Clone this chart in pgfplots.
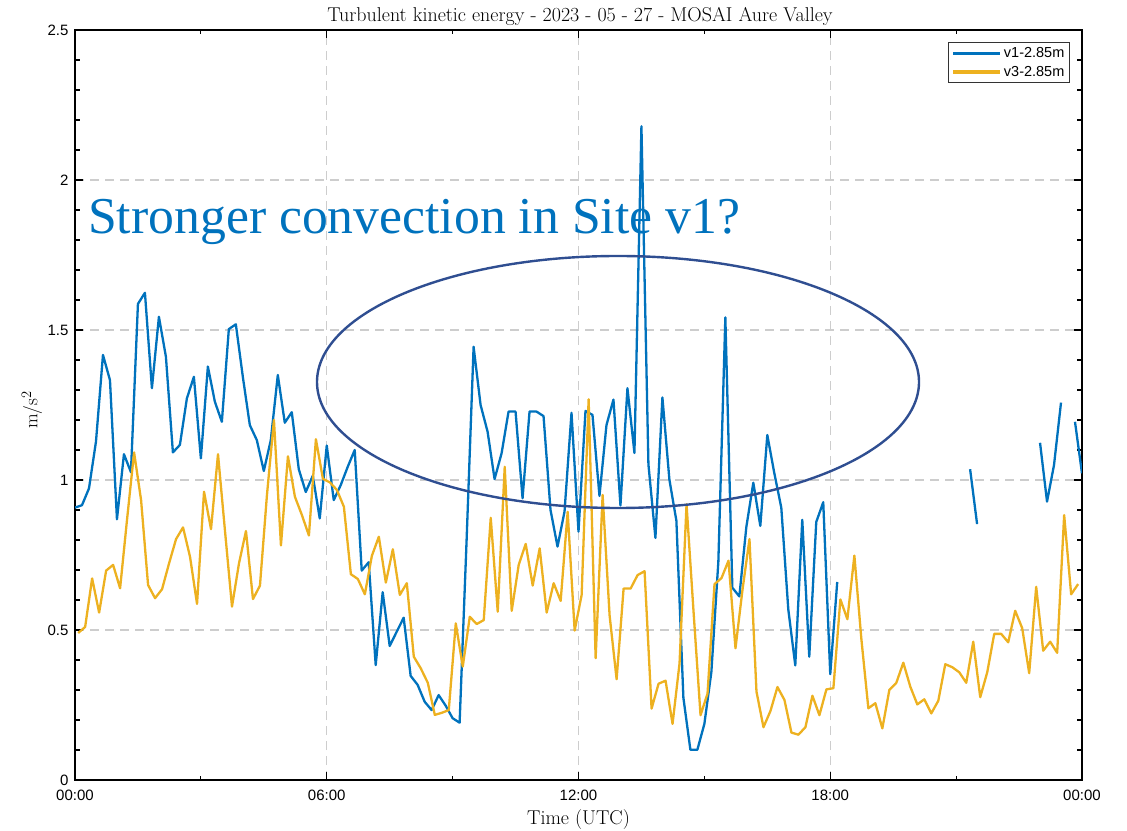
\documentclass[border=0pt]{standalone}
\usepackage{fontspec}
\setsansfont{Liberation Sans}
\newfontfamily\annfont{Liberation Serif}
\usepackage{pgfplots}
\usepackage{pgfplotstable}
\pgfplotsset{compat=1.18}
\definecolor{mblue}{RGB}{0,114,189}
\definecolor{myell}{RGB}{237,177,32}
\definecolor{ellc}{RGB}{47,78,145}
\definecolor{gridc}{RGB}{205,205,205}
\pgfplotstableread{
i v
0 0.908
1 0.916
2 0.972
3 1.128
4 1.417
5 1.333
6 0.869
7 1.086
8 1.026
9 1.587
10 1.624
11 1.306
12 1.544
13 1.411
14 1.092
15 1.117
16 1.272
17 1.344
18 1.072
19 1.378
20 1.261
21 1.194
22 1.503
23 1.519
24 1.344
25 1.183
26 1.133
27 1.030
28 1.133
29 1.350
30 1.191
31 1.226
32 1.036
33 0.960
34 1.014
35 0.872
36 1.115
37 0.933
38 0.983
39 1.044
40 1.100
41 0.698
42 0.726
43 0.383
44 0.626
45 0.447
46 0.494
47 0.541
48 0.347
49 0.317
50 0.261
51 0.233
52 0.283
53 0.248
54 0.206
55 0.191
56 0.800
57 1.444
58 1.250
59 1.161
60 1.003
61 1.089
62 1.228
63 1.228
64 0.939
65 1.228
66 1.228
67 1.213
68 0.900
69 0.778
70 0.894
71 1.224
72 0.828
73 1.230
74 1.217
75 0.947
76 1.183
77 1.268
78 0.915
79 1.306
80 1.090
81 2.179
82 1.052
83 0.807
84 1.275
85 1.001
86 0.864
87 0.274
88 0.101
89 0.101
90 0.187
91 0.360
92 0.728
93 1.542
94 0.641
95 0.612
96 0.843
97 0.991
98 0.847
99 1.150
100 1.023
101 0.908
102 0.569
103 0.382
104 0.867
105 0.411
106 0.860
107 0.926
108 0.353
109 0.660
110 nan
127 nan
128 1.036
129 0.853
130 nan
137 nan
138 1.124
139 0.928
140 1.050
141 1.258
142 nan
143 1.194
144 1.022
}\blueT
\pgfplotstableread{
t v
0.45 0.490
1.45 0.510
2.45 0.672
3.45 0.558
4.45 0.698
5.45 0.717
6.45 0.639
7.45 0.870
8.45 1.092
9.45 0.933
10.45 0.650
11.45 0.606
12.45 0.636
13.45 0.722
14.45 0.803
15.45 0.842
16.45 0.744
17.45 0.587
18.45 0.961
19.45 0.836
20.45 1.086
21.45 0.830
22.45 0.578
23.45 0.722
24.45 0.830
25.45 0.603
26.45 0.648
27.45 0.950
28.45 1.200
29.45 0.782
30.45 1.079
31.45 0.944
32.45 0.883
33.45 0.815
34.45 1.136
35.45 1.004
36.45 0.992
37.45 0.967
38.45 0.911
39.45 0.686
40.45 0.670
41.45 0.619
42.45 0.747
43.45 0.811
44.45 0.658
45.45 0.769
46.45 0.617
47.45 0.656
48.45 0.411
49.45 0.372
50.45 0.324
51.45 0.217
52.45 0.224
53.45 0.233
54.45 0.522
55.45 0.378
56.45 0.544
57.45 0.520
58.45 0.533
59.45 0.874
60.45 0.561
61.45 1.044
62.45 0.564
63.45 0.717
64.45 0.787
65.45 0.648
66.45 0.772
67.45 0.558
68.45 0.656
69.45 0.597
70.45 0.894
71.45 0.498
72.45 0.617
73.45 1.269
74.45 0.406
75.45 0.950
76.45 0.548
77.45 0.336
78.45 0.638
79.45 0.638
80.45 0.683
81.45 0.696
82.45 0.238
83.45 0.321
84.45 0.331
85.45 0.187
86.45 0.389
87.45 0.919
88.45 0.562
89.45 0.216
90.45 0.288
91.45 0.653
92.45 0.673
93.45 0.731
94.45 0.439
95.45 0.634
96.45 0.803
97.45 0.295
98.45 0.176
99.45 0.230
100.45 0.310
101.45 0.267
102.45 0.158
103.45 0.151
104.45 0.176
105.45 0.281
106.45 0.216
107.45 0.302
108.45 0.306
109.45 0.602
110.45 0.536
111.45 0.748
112.45 0.470
113.45 0.239
114.45 0.256
115.45 0.172
116.45 0.300
117.45 0.324
118.45 0.391
119.45 0.311
120.45 0.252
121.45 0.269
122.45 0.222
123.45 0.264
124.45 0.386
125.45 0.376
126.45 0.359
127.45 0.324
128.45 0.461
129.45 0.276
130.45 0.359
131.45 0.487
132.45 0.487
133.45 0.459
134.45 0.564
135.45 0.506
136.45 0.356
137.45 0.644
138.45 0.431
139.45 0.461
140.45 0.424
141.45 0.883
142.45 0.619
143.45 0.653
}\yellT
\begin{document}
\begin{tikzpicture}[x=1pt,y=1pt]
\path[use as bounding box] (0,0) rectangle (1127,830);
\begin{axis}[
  at={(75pt,50pt)}, anchor=south west,
  scale only axis, width=1007pt, height=750pt,
  xmin=0, xmax=144, ymin=0, ymax=2.5,
  xtick={0,36,72,108,144},
  xticklabels={00:00,06:00,12:00,18:00,00:00},
  minor xtick={18,54,90,126},
  ytick={0,0.5,1,1.5,2,2.5},
  yticklabels={0,0.5,1,1.5,2,2.5},
  minor y tick num=4,
  tick align=inside,
  major tick length=8pt, minor tick length=4.5pt,
  every tick/.style={black, line width=1.1pt},
  axis line style={black, line width=1.3pt},
  grid=major,
  major grid style={gridc, line width=1.2pt, dash pattern=on 9pt off 6pt},
  tick label style={font=\sffamily\fontsize{15}{15}\selectfont},
  xticklabel style={yshift=-6pt},
  yticklabel style={xshift=-3pt},
  unbounded coords=jump,
  legend style={at={(1,1)}, anchor=north east, xshift=-12pt, yshift=-12pt,
    font=\sffamily\fontsize{14.5}{14.5}\selectfont, draw=black!80, line width=1.2pt,
    inner xsep=3pt, inner ysep=3pt, row sep=3pt,
    nodes={inner sep=2pt}},
  legend cell align=left,
  legend image code/.code={\draw[line width=3.2pt] (0pt,0pt) -- (47pt,0pt);},
]
\addplot[mblue, line width=2.3pt, line join=round] table[x=i, y=v] {\blueT};
\addlegendentry{v1-2.85m}
\addplot[myell, line width=2.3pt, line join=round] table[x=t, y=v] {\yellT};
\addlegendentry{v3-2.85m}
\end{axis}
\node[anchor=base, font=\fontsize{20}{20}\selectfont] at (580,808) {Turbulent kinetic energy - 2023 - 05 - 27 - MOSAI Aure Valley};
\node[anchor=base, font=\fontsize{20}{20}\selectfont] at (578.5,6) {Time (UTC)};
\node[rotate=90, font=\fontsize{19}{19}\selectfont] at (32,420) {m/s$^2$};
\draw[ellc, line width=2.4pt] (618,448) ellipse [x radius=301, y radius=126];
\node[anchor=base west, inner sep=0pt, text=mblue, font=\annfont\fontsize{51.7}{54}\selectfont] at (88,596) {Stronger convection in Site v1?};
\end{tikzpicture}
\end{document}
